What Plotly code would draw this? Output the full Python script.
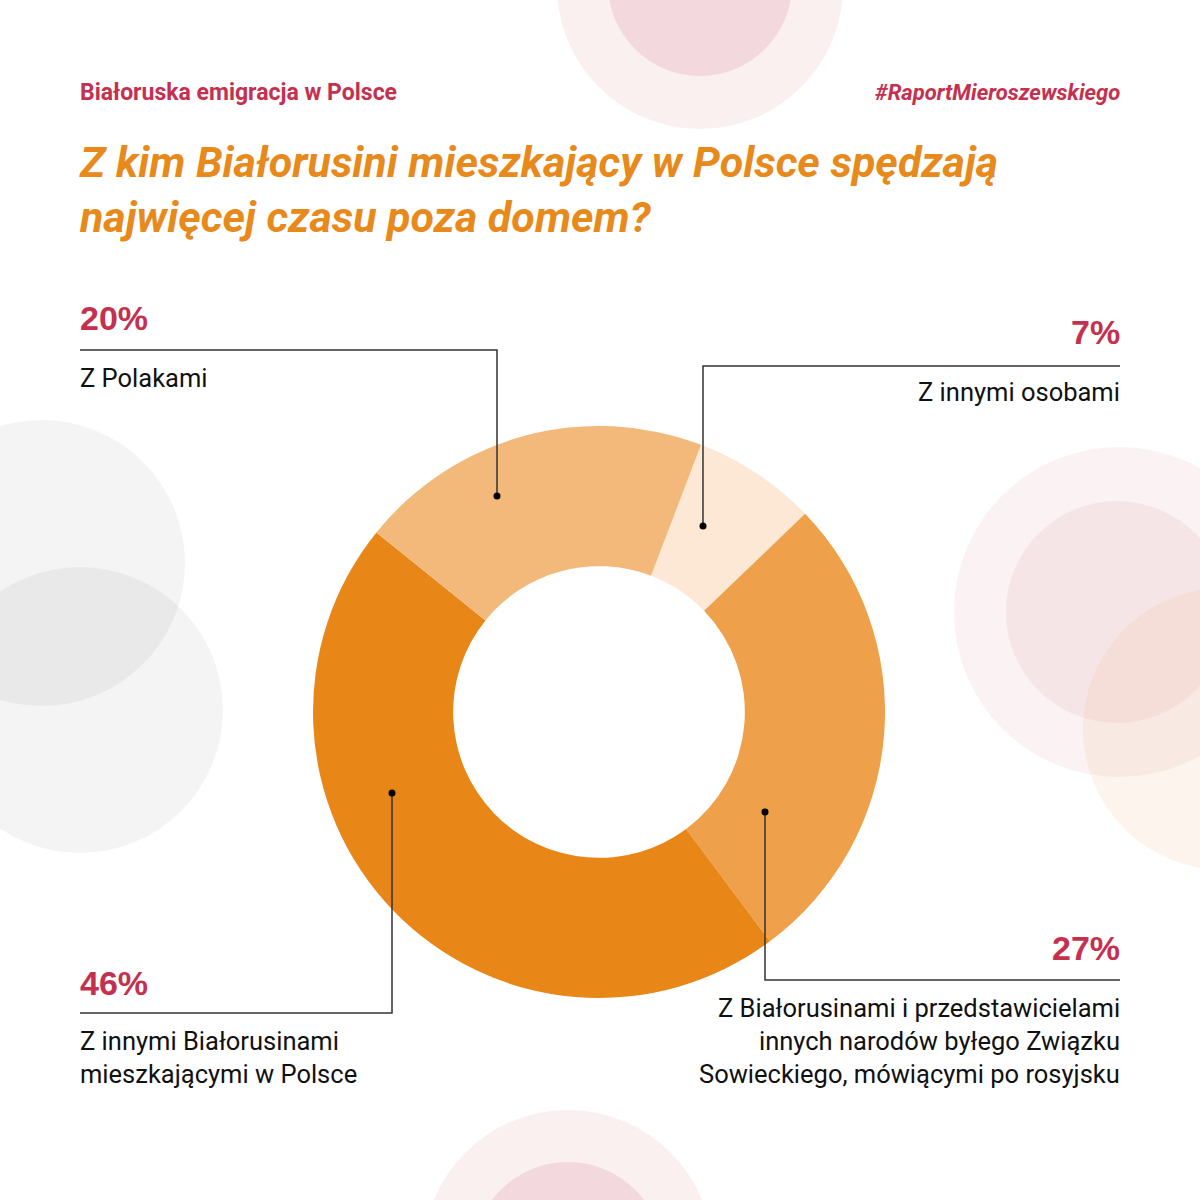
import plotly.graph_objects as go

# Data: share of time spent outside home, by company
categories = [
    "Z innymi osobami",
    "Z Białorusinami i przedstawicielami innych narodów byłego Związku Sowieckiego, mówiącymi po rosyjsku",
    "Z innymi Białorusinami mieszkającymi w Polsce",
    "Z Polakami",
]
values = [7, 27, 46, 20]
slice_colors = ["#FCE8D5", "#EFA04B", "#E88617", "#F3B97B"]

# Callout label lines (as shown on the chart)
label_lines = [
    ["Z innymi osobami"],
    ["Z Białorusinami i przedstawicielami", "innych narodów byłego Związku", "Sowieckiego, mówiącymi po rosyjsku"],
    ["Z innymi Białorusinami", "mieszkającymi w Polsce"],
    ["Z Polakami"],
]

W = H = 1200
RED = "#C5304F"
ORANGE = "#E8891B"


def px(x):
    return x / W


def py(y):
    return 1 - y / H


fig = go.Figure(go.Pie(
    labels=categories,
    values=values,
    marker=dict(colors=slice_colors, line=dict(width=0)),
    hole=0.51,
    sort=False,
    direction="clockwise",
    rotation=20.9,
    textinfo="none",
    hoverinfo="skip",
    showlegend=False,
    domain=dict(x=[px(313), px(885)], y=[py(998), py(426)]),
))

shapes = []


def circle(cx, cy, r, color):
    shapes.append(dict(type="circle", xref="paper", yref="paper",
                       x0=px(cx - r), x1=px(cx + r), y0=py(cy + r), y1=py(cy - r),
                       fillcolor=color, line=dict(width=0), layer="below"))


# decorative background circles
circle(700, -14, 143, "#F9F0EF")
circle(700, -16, 92, "#F3D9DD")
circle(568, 1255, 145, "#F9F0EF")
circle(568, 1257, 95, "#F3D9DD")
circle(42, 563, 143, "rgba(0,0,0,0.045)")
circle(80, 710, 143, "rgba(0,0,0,0.045)")
circle(1119, 612, 165, "#FBF2F4")
circle(1117, 612, 111, "#F6E5E7")
circle(1224, 729, 141, "rgba(240,170,110,0.12)")

# callouts: dot position, elbow y, end x, side
callouts = [
    dict(dot=(703, 526), ey=366, ex=1120, side="right", pct_y=332, lab_y=392),
    dict(dot=(765, 812), ey=980, ex=1120, side="right", pct_y=948, lab_y=1008),
    dict(dot=(392, 793), ey=1013, ex=80, side="left", pct_y=983, lab_y=1041),
    dict(dot=(497, 496), ey=350, ex=80, side="left", pct_y=318, lab_y=378),
]

annotations = []
for c, v, lines in zip(callouts, values, label_lines):
    dx, dy = c["dot"]
    shapes.append(dict(type="path", xref="paper", yref="paper",
                       path=f"M {px(dx)} {py(dy)} L {px(dx)} {py(c['ey'])} L {px(c['ex'])} {py(c['ey'])}",
                       line=dict(color="#333333", width=1.5)))
    shapes.append(dict(type="circle", xref="paper", yref="paper",
                       x0=px(dx - 3.5), x1=px(dx + 3.5), y0=py(dy + 3.5), y1=py(dy - 3.5),
                       fillcolor="#000000", line=dict(width=0)))
    if c["side"] == "right":
        anchor, tx = "right", c["ex"] + 2
    else:
        anchor, tx = "left", c["ex"] - 2
    annotations.append(dict(x=px(tx), y=py(c["pct_y"]), xref="paper", yref="paper",
                            text=f"{v}%", showarrow=False, xanchor=anchor, yanchor="middle",
                            font=dict(family="Liberation Sans", size=34, color=RED, weight="bold")))
    for i, line in enumerate(lines):
        annotations.append(dict(x=px(tx), y=py(c["lab_y"] + i * 33), xref="paper", yref="paper",
                                text=line, showarrow=False, xanchor=anchor, yanchor="middle",
                                font=dict(family="Roboto", size=25.5, color="#111111")))

# header texts
annotations.append(dict(x=px(78), y=py(92), xref="paper", yref="paper", text="Białoruska emigracja w Polsce",
                        showarrow=False, xanchor="left", yanchor="middle",
                        font=dict(family="Roboto", size=23, color=RED, weight="bold")))
annotations.append(dict(x=px(1122), y=py(92), xref="paper", yref="paper", text="#RaportMieroszewskiego",
                        showarrow=False, xanchor="right", yanchor="middle",
                        font=dict(family="Roboto", size=22, color=RED, weight="bold", style="italic")))
title_lines = ["Z kim Białorusini mieszkający w Polsce spędzają", "najwięcej czasu poza domem?"]
for i, t in enumerate(title_lines):
    annotations.append(dict(x=px(77), y=py(162 + i * 55), xref="paper", yref="paper", text=t,
                            showarrow=False, xanchor="left", yanchor="middle",
                            font=dict(family="Roboto", size=43, color=ORANGE, weight="bold", style="italic")))

fig.update_layout(
    width=W, height=H,
    margin=dict(l=0, r=0, t=0, b=0),
    paper_bgcolor="white",
    plot_bgcolor="white",
    shapes=shapes,
    annotations=annotations,
)

fig.write_html("out.html", config={"displayModeBar": False},
               post_script="document.body.style.margin='0';")
